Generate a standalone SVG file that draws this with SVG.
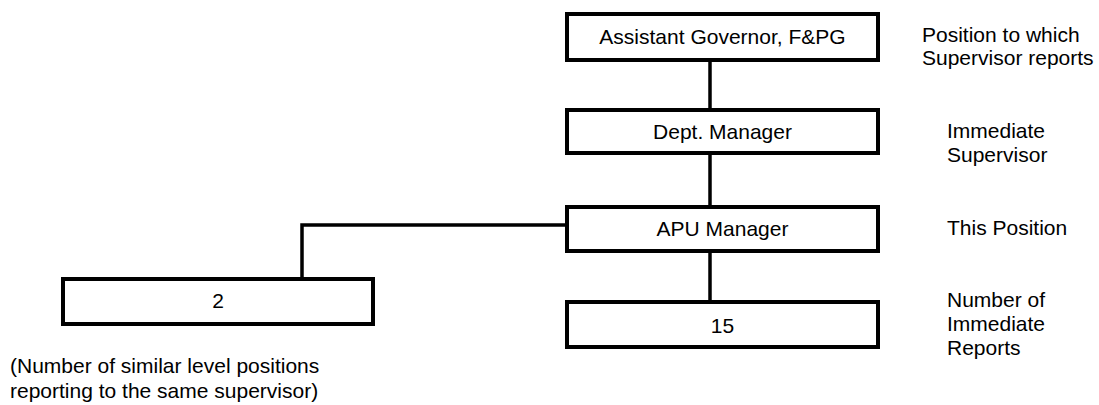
<svg xmlns="http://www.w3.org/2000/svg" width="1099" height="405" viewBox="0 0 1099 405">
<style>
.box{fill:#fff;stroke:#000;stroke-width:4}
.ln{fill:none;stroke:#000;stroke-width:3.5}
text{font-family:"Liberation Sans",Arial,sans-serif;font-size:21px;fill:#000}
.c{text-anchor:middle}
</style>
<rect width="1099" height="405" fill="#fff"/>
<g id="connectors">
<line class="ln" x1="710" y1="61" x2="710" y2="108"/>
<line class="ln" x1="710" y1="155" x2="710" y2="205"/>
<line class="ln" x1="710" y1="253" x2="710" y2="300"/>
<polyline class="ln" points="565,225 302,225 302,277"/>
</g>
<g id="node-ag">
<rect class="box" x="567" y="14" width="311" height="46"/>
<text class="c" x="722.5" y="44">Assistant Governor, F&amp;PG</text>
</g>
<g id="node-dept">
<rect class="box" x="567" y="110" width="311" height="43"/>
<text class="c" x="722.5" y="139">Dept. Manager</text>
</g>
<g id="node-apu">
<rect class="box" x="567" y="207" width="311" height="44"/>
<text class="c" x="722.5" y="236">APU Manager</text>
</g>
<g id="node-15">
<rect class="box" x="567" y="302" width="311" height="45"/>
<text class="c" x="722.5" y="333">15</text>
</g>
<g id="node-2">
<rect class="box" x="63" y="279" width="310" height="45"/>
<text class="c" x="218" y="308">2</text>
</g>
<g id="labels">
<text x="922" y="42">Position to which</text>
<text x="922" y="65">Supervisor reports</text>
<text x="947" y="138">Immediate</text>
<text x="947" y="162">Supervisor</text>
<text x="947" y="235">This Position</text>
<text x="947" y="307">Number of</text>
<text x="947" y="331">Immediate</text>
<text x="947" y="355">Reports</text>
<text x="10" y="373">(Number of similar level positions</text>
<text x="10" y="398">reporting to the same supervisor)</text>
</g>
</svg>
